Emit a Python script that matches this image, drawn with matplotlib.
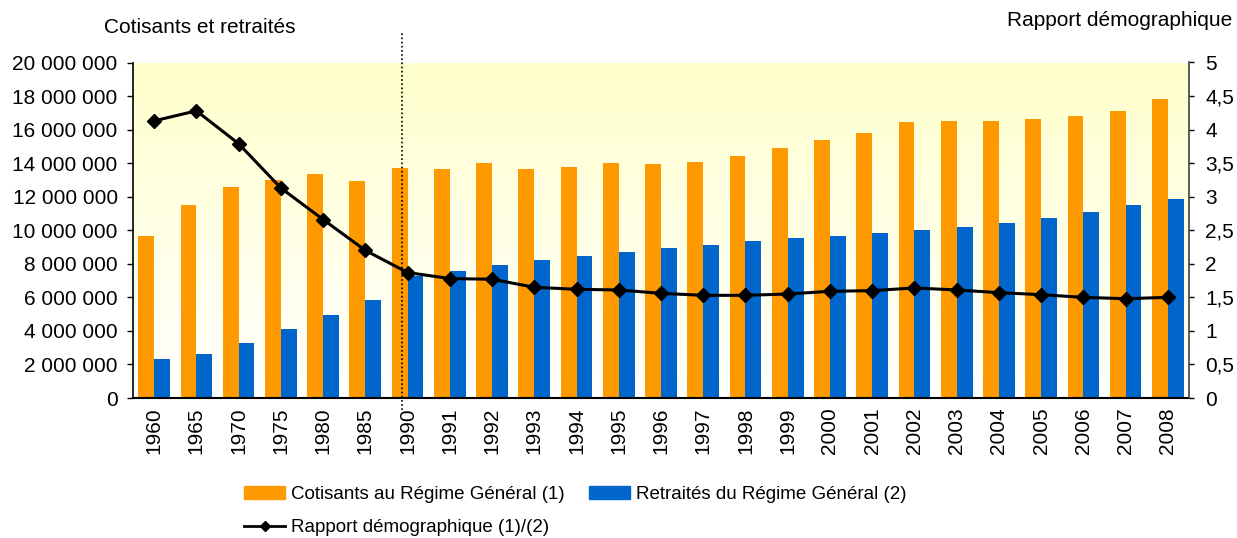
import numpy as np
import matplotlib
matplotlib.use('Agg')
import matplotlib.pyplot as plt
from matplotlib.transforms import blended_transform_factory
from matplotlib.patches import Patch
from matplotlib.lines import Line2D

plt.rcParams['font.family'] = ['Liberation Sans', 'DejaVu Sans']

# Données
annees = ['1960', '1965', '1970', '1975', '1980', '1985',
          '1990', '1991', '1992', '1993', '1994', '1995', '1996', '1997',
          '1998', '1999', '2000', '2001', '2002', '2003', '2004', '2005',
          '2006', '2007', '2008']

cotisants = [9.64, 11.49, 12.56, 12.98, 13.33, 12.92,
             13.69, 13.63, 13.99, 13.63, 13.75, 13.99, 13.93, 14.05,
             14.40, 14.88, 15.36, 15.77, 16.43, 16.49, 16.49, 16.61,
             16.79, 17.08, 17.80]  # millions

retraites = [2.32, 2.62, 3.27, 4.11, 4.94, 5.83,
             7.26, 7.56, 7.92, 8.21, 8.45, 8.69, 8.93, 9.11,
             9.35, 9.52, 9.64, 9.82, 10.00, 10.18, 10.42, 10.71,
             11.07, 11.49, 11.85]  # millions

rapport = [4.13, 4.28, 3.79, 3.13, 2.66, 2.20,
           1.87, 1.78, 1.77, 1.65, 1.62, 1.61, 1.56, 1.53,
           1.53, 1.55, 1.59, 1.60, 1.64, 1.61, 1.57, 1.54,
           1.50, 1.48, 1.50]

col_cot = '#FF9900'
col_ret = '#0066CC'

x = np.arange(len(annees))
w = 0.375

fig = plt.figure(figsize=(12.37, 5.38), dpi=100)
ax = fig.add_axes([133 / 1237, 1 - 398 / 538, (1189 - 133) / 1237, (398 - 62.5) / 538])

# Fond dégradé jaune -> blanc
grad = np.linspace(1, 0, 256).reshape(-1, 1)
top = np.array([1.0, 1.0, 0.8])
bottom = np.array([1.0, 1.0, 1.0])
img = bottom + (top - bottom) * grad[:, :, None]
ax.imshow(img, extent=[-0.5, len(annees) - 0.5, 0, 20e6], aspect='auto', zorder=0)

ax.bar(x - w / 2, np.array(cotisants) * 1e6, w, color=col_cot, zorder=2)
ax.bar(x + w / 2, np.array(retraites) * 1e6, w, color=col_ret, zorder=2)

ax.set_xlim(-0.5, len(annees) - 0.5)
ax.set_ylim(0, 20e6)
ax.set_yticks(np.arange(0, 20e6 + 1, 2e6))
ax.set_yticklabels([f'{int(v):,}'.replace(',', ' ') for v in np.arange(0, 20e6 + 1, 2e6)])
ax.set_xticks(x)
ax.set_xticklabels(annees, rotation=90)
ax.tick_params(axis='x', length=0, pad=7, labelsize=15)
ax.tick_params(axis='y', length=4.5, width=1, pad=6.5, labelsize=15, direction='out')

for s in ['top', 'right']:
    ax.spines[s].set_visible(False)
ax.spines['left'].set_linewidth(1.2)
ax.spines['bottom'].set_linewidth(1.5)

# Ligne pointillée verticale (1990)
trans = blended_transform_factory(ax.transData, ax.transAxes)
xd = annees.index('1990') - 0.14
ax.plot([xd, xd], [-0.035, 1.09], transform=trans, color='black', linestyle=(0, (1, 1.5)),
        linewidth=1.2, clip_on=False, zorder=3)

ax2 = ax.twinx()
ax2.plot(x, rapport, color='black', linewidth=2.2, marker='D', markersize=7, zorder=5)
ax2.set_ylim(0, 5)
ax2.set_xlim(-0.5, len(annees) - 0.5)
rt = np.arange(0, 5.01, 0.5)
ax2.set_yticks(rt)
ax2.set_yticklabels([f'{v:g}'.replace('.', ',') for v in rt])
ax2.tick_params(axis='y', length=3.6, width=1, pad=8, labelsize=15, direction='out')
for s in ['top', 'left', 'bottom']:
    ax2.spines[s].set_visible(False)
ax2.spines['right'].set_color('#404040')
ax2.spines['right'].set_linewidth(1.2)

fig.text(200 / 1237, 1 - 28 / 538, 'Cotisants et retraités', ha='center', va='center', fontsize=15)
fig.text(1120 / 1237, 1 - 20 / 538, 'Rapport démographique', ha='center', va='center', fontsize=15)

handles = [Patch(color=col_cot), Line2D([], [], color='black', linewidth=2, marker='D', markersize=5),
           Patch(color=col_ret)]
labels = ['Cotisants au Régime Général (1)', 'Rapport démographique (1)/(2)',
          'Retraités du Régime Général (2)']
fig.legend(handles, labels, ncol=2, loc='upper left', bbox_to_anchor=(244 / 1237, 1 - 486 / 538),
           frameon=False, fontsize=13.5, handlelength=2.2, handletextpad=0.3,
           columnspacing=1.3, labelspacing=0.85, borderpad=0, borderaxespad=0)

fig.savefig('out.png', dpi=100)
